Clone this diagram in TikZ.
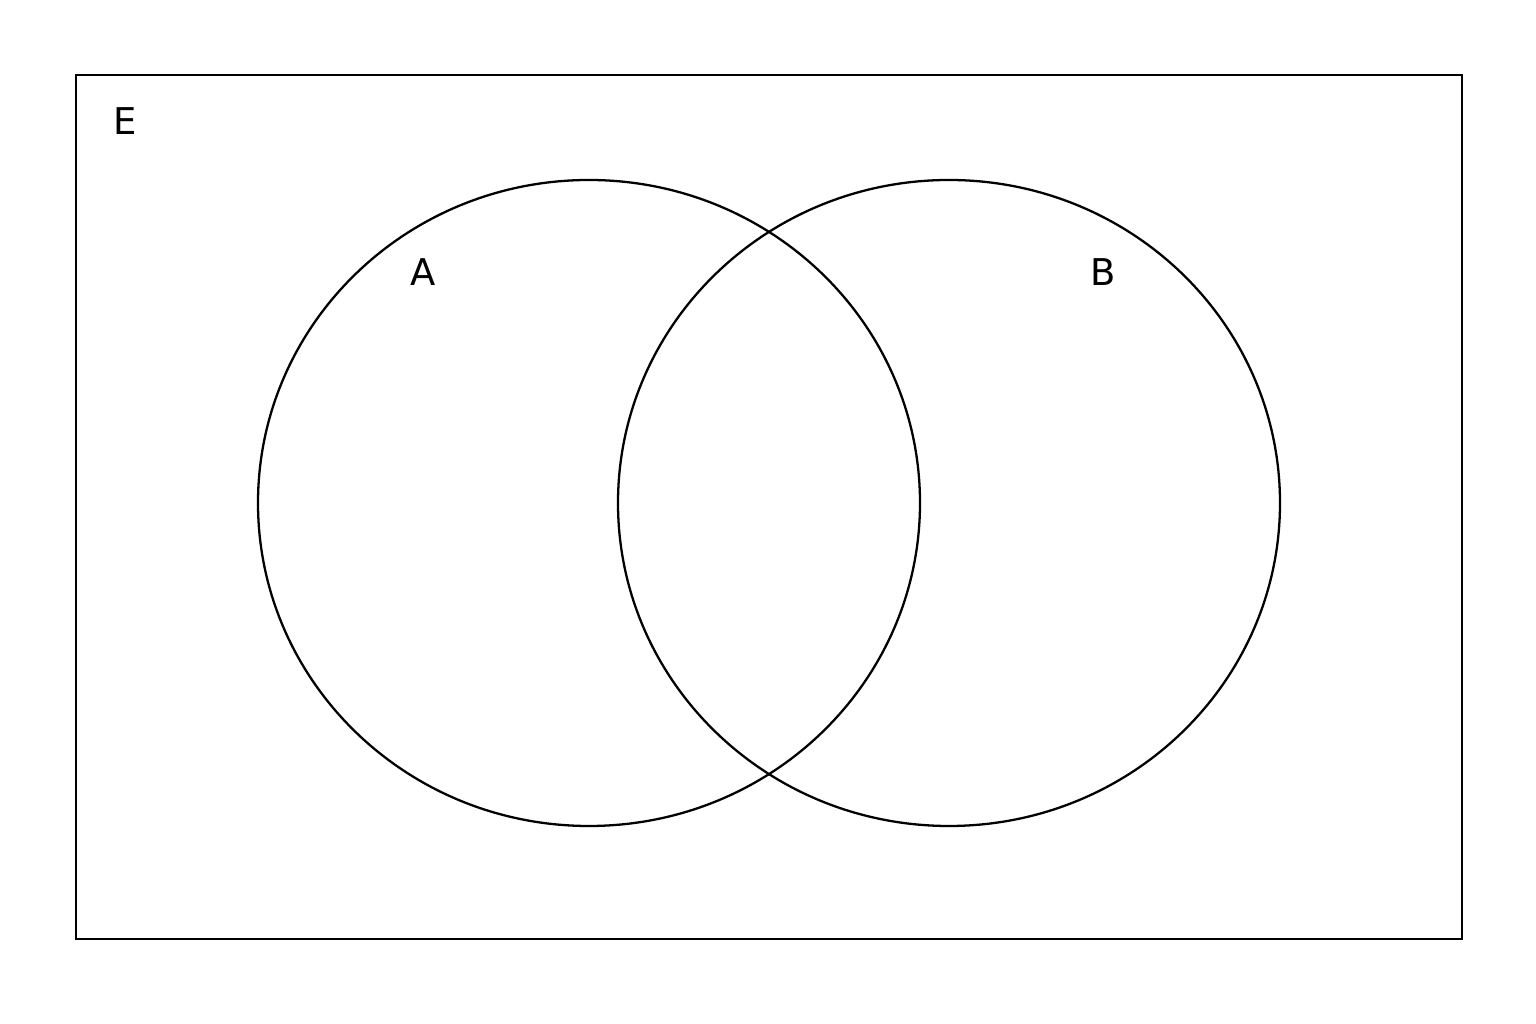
\documentclass[tikz,border=0pt]{standalone}
\usepackage{fontspec}
\setmainfont{DejaVu Sans}
\begin{document}
\begin{tikzpicture}[x=0.02cm,y=0.02cm,line width=1.3pt,
  setlabel/.style={font=\fontsize{21}{25}\selectfont}]
  \useasboundingbox (0,0) rectangle (1536,1024);
  \draw (76,85) rectangle (1462,949);
  \draw (589,521) ellipse [x radius=331, y radius=323];
  \draw (949,521) ellipse [x radius=331, y radius=323];
  \node[setlabel] (E) at (125,903) {E};
  \node[setlabel] (A) at (423,752) {A};
  \node[setlabel] (B) at (1103,752) {B};
\end{tikzpicture}
\end{document}
